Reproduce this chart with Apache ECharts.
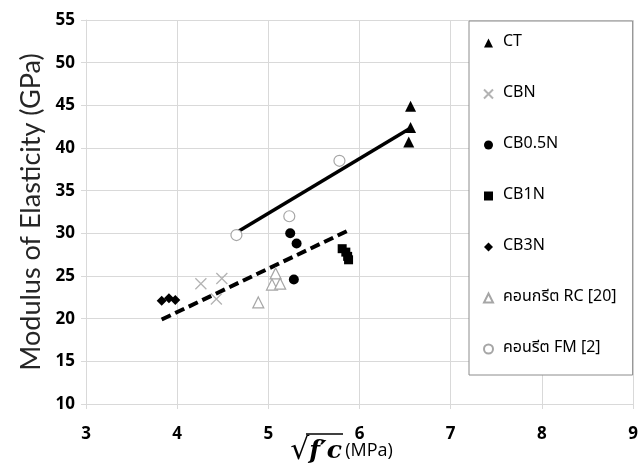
<!DOCTYPE html>
<html>
<head>
<meta charset="utf-8">
<script src="https://cdn.jsdelivr.net/npm/echarts@6/dist/echarts.min.js"></script>
<style>
  html, body { margin: 0; padding: 0; background: #fff; }
  #chart { width: 643px; height: 466px; }
</style>
</head>
<body>
<div id="chart"></div>
<script>
  // values
  const seriesNames = ['CT', 'CBN', 'CB0.5N', 'CB1N', 'CB3N', 'คอนกรีต RC [20]', 'คอนรีต FM [2]'];
  const ctData = [[6.56, 44.9], [6.56, 42.4], [6.54, 40.7]];
  const cbnData = [[4.26, 24.1], [4.49, 24.7], [4.43, 22.3]];
  const cb05nData = [[5.24, 30.0], [5.31, 28.8], [5.28, 24.6]];
  const cb1nData = [[5.81, 28.2], [5.85, 27.8], [5.87, 27.3], [5.88, 26.9]];
  const cb3nData = [[3.83, 22.1], [3.91, 22.4], [3.98, 22.2]];
  const rcData = [[5.08, 25.3], [5.04, 24.0], [5.13, 24.1], [4.89, 21.9]];
  const fmData = [[4.65, 29.8], [5.23, 32.0], [5.78, 38.5]];
  const solidTrend = [[4.65, 30.1], [6.57, 42.4]];
  const dashedTrend = [[3.83, 19.9], [5.89, 30.4]];
  const xTicks = { min: 3, max: 9, step: 1 };
  const yTicks = { min: 10, max: 55, step: 5 };

  const chart = echarts.init(document.getElementById('chart'));
  const labelFont = '"Open Sans", sans-serif';
  const thaiFont = 'Tahoma, "Noto Sans Thai", "Leelawadee UI", "Open Sans", sans-serif';
  const crossPath = 'path://M0,0L10,10M10,0L0,10';

  const scatter = (name, data, symbol, size, itemStyle) => ({
    name: name,
    type: 'scatter',
    data: data,
    symbol: symbol,
    symbolSize: size,
    itemStyle: Object.assign({ opacity: 1 }, itemStyle),
    z: 3
  });

  const option = {
    animation: false,
    backgroundColor: '#fff',
    grid: { left: 86, right: 10, top: 20, bottom: 62, outerBoundsMode: 'none', containLabel: false },
    legend: {
      data: seriesNames,
      orient: 'vertical',
      left: 469,
      top: 21,
      padding: [14, 16, 18, 14],
      itemWidth: 9,
      itemHeight: 9,
      itemGap: 35,
      backgroundColor: '#fff',
      borderColor: '#8c8c8c',
      borderWidth: 1,
      textStyle: {
        fontFamily: thaiFont,
        fontSize: 16,
        color: '#000',
        lineHeight: 16,
        padding: [0, 0, 0, 5]
      }
    },
    graphic: [
      // bar of the square-root sign in the x axis title
      { type: 'line', z: 10, shape: { x1: 306, y1: 434, x2: 343, y2: 434 }, style: { stroke: '#000', lineWidth: 1.5 } }
    ],
    xAxis: {
      type: 'value',
      min: xTicks.min,
      max: xTicks.max,
      interval: xTicks.step,
      name: '{r|√}{f|f′c} {u|(MPa)}',
      nameLocation: 'middle',
      nameGap: 32,
      nameMoveOverlap: false,
      nameTextStyle: {
        padding: [0, 36, 0, 0],
        rich: {
          r: { fontFamily: '"DejaVu Sans"', fontSize: 30, color: '#000' },
          f: { fontFamily: '"DejaVu Serif"', fontStyle: 'italic', fontWeight: 'bold', fontSize: 25, color: '#000' },
          u: { fontFamily: labelFont, fontSize: 18, color: '#000' }
        }
      },
      axisLine: { show: true, lineStyle: { color: '#d9d9d9', width: 1 } },
      axisTick: { show: true, length: 5, lineStyle: { color: '#d9d9d9' } },
      axisLabel: { margin: 22, fontFamily: labelFont, fontWeight: 'bold', fontSize: 17, color: '#000' },
      splitLine: { show: true, lineStyle: { color: '#d9d9d9', width: 1 } }
    },
    yAxis: {
      type: 'value',
      min: yTicks.min,
      max: yTicks.max,
      interval: yTicks.step,
      name: 'Modulus of Elasticity (GPa)',
      nameLocation: 'middle',
      nameGap: 41,
      nameTextStyle: { fontFamily: 'Lato, "Open Sans", sans-serif', fontSize: 27, color: '#262626' },
      axisLine: { show: true, lineStyle: { color: '#d9d9d9', width: 1 } },
      axisTick: { show: true, length: 5, lineStyle: { color: '#d9d9d9' } },
      axisLabel: { margin: 11, fontFamily: labelFont, fontWeight: 'bold', fontSize: 17, color: '#000' },
      splitLine: { show: true, lineStyle: { color: '#d9d9d9', width: 1 } }
    },
    series: [
      {
        type: 'line', data: solidTrend, symbol: 'none', z: 2, silent: true,
        lineStyle: { color: '#000', width: 3.5 }
      },
      {
        type: 'line', data: dashedTrend, symbol: 'none', z: 2, silent: true,
        lineStyle: { color: '#000', width: 4, type: [10, 5] }
      },
      scatter(seriesNames[0], ctData, 'triangle', 11, { color: '#000' }),
      scatter(seriesNames[1], cbnData, crossPath, 11, { color: 'transparent', borderColor: '#b3b3b3', borderWidth: 1.3 }),
      scatter(seriesNames[2], cb05nData, 'circle', 10, { color: '#000' }),
      scatter(seriesNames[3], cb1nData, 'rect', 9, { color: '#000' }),
      scatter(seriesNames[4], cb3nData, 'diamond', 10, { color: '#000' }),
      scatter(seriesNames[5], rcData, 'triangle', 11, { color: '#fff', borderColor: '#a6a6a6', borderWidth: 1.2 }),
      scatter(seriesNames[6], fmData, 'circle', 11, { color: '#fff', borderColor: '#a6a6a6', borderWidth: 1.2 })
    ]
  };
  chart.setOption(option);
</script>
</body>
</html>
